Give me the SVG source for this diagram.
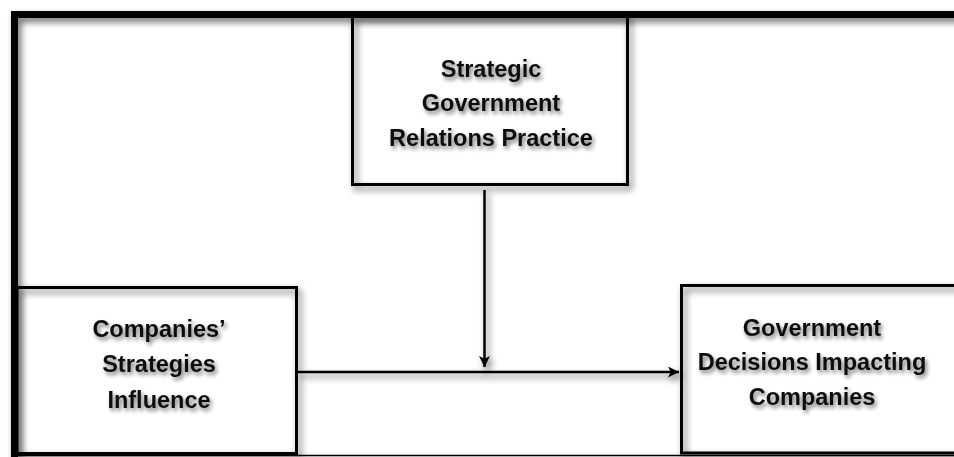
<svg xmlns="http://www.w3.org/2000/svg" width="954" height="457" viewBox="0 0 954 457">
<defs>
<filter id="sh" x="-10%" y="-10%" width="130%" height="130%">
<feGaussianBlur in="SourceAlpha" stdDeviation="3.5"/>
<feOffset dx="3" dy="4" result="b"/>
<feComponentTransfer><feFuncA type="linear" slope="0.6"/></feComponentTransfer>
<feMerge><feMergeNode/><feMergeNode in="SourceGraphic"/></feMerge>
</filter>
<filter id="tsh" x="-10%" y="-30%" width="130%" height="180%">
<feGaussianBlur in="SourceAlpha" stdDeviation="2"/>
<feOffset dx="2" dy="3"/>
<feComponentTransfer><feFuncA type="linear" slope="0.55"/></feComponentTransfer>
<feMerge><feMergeNode/><feMergeNode in="SourceGraphic"/></feMerge>
</filter>
<marker id="ah" viewBox="0 0 10 10" refX="10" refY="5" markerWidth="4.4" markerHeight="4.4" orient="auto" markerUnits="strokeWidth">
<path d="M0,0 L10,5 L0,10 L2.5,5 Z" fill="#000"/>
</marker>
</defs>
<style>
.box{fill:none;stroke:#000;stroke-width:3}
.t{font-family:"Liberation Sans",Arial,sans-serif;font-weight:bold;font-size:23.5px;fill:#111;text-anchor:middle}
.c{fill:none;stroke:#000;stroke-width:2.5}
</style>
<rect width="954" height="457" fill="#fff"/>
<g id="frame" filter="url(#sh)">
<path d="M11,14.5 H960" stroke="#000" stroke-width="7" fill="none"/>
<path d="M14.5,11 V460" stroke="#000" stroke-width="7" fill="none"/>
<path d="M11,455.5 H960" stroke="#000" stroke-width="1.5" fill="none"/>
</g>
<g id="node-strategic">
<rect class="box" x="352.5" y="16" width="275" height="168.5" filter="url(#sh)"/>
<g filter="url(#tsh)">
<text class="t" x="491" y="77">Strategic</text>
<text class="t" x="491" y="111">Government</text>
<text class="t" x="491" y="146">Relations Practice</text>
</g>
</g>
<g id="node-companies">
<rect class="box" x="17" y="287.5" width="279.5" height="166" filter="url(#sh)"/>
<g filter="url(#tsh)">
<text class="t" x="159" y="337">Companies’</text>
<text class="t" x="159" y="372">Strategies</text>
<text class="t" x="159" y="408">Influence</text>
</g>
</g>
<g id="node-government">
<rect class="box" x="681.5" y="285.5" width="280" height="167.5" filter="url(#sh)"/>
<g filter="url(#tsh)">
<text class="t" x="812" y="336">Government</text>
<text class="t" x="812" y="370">Decisions Impacting</text>
<text class="t" x="812" y="405">Companies</text>
</g>
</g>
<g id="connectors" filter="url(#sh)">
<line class="c" x1="484.5" y1="190" x2="484.5" y2="367" marker-end="url(#ah)"/>
<line class="c" x1="298" y1="372" x2="679" y2="372" marker-end="url(#ah)"/>
</g>
</svg>
